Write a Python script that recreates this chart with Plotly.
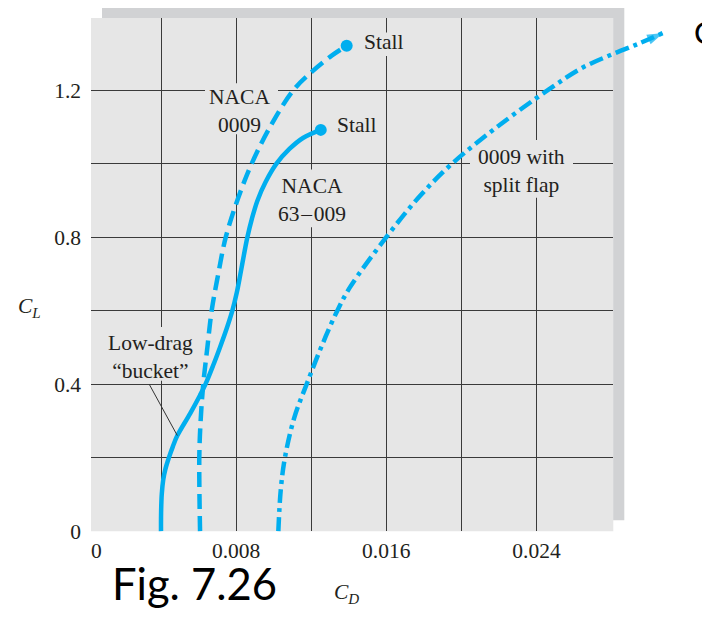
import plotly.graph_objects as go

# ---------------- data ----------------
# NACA 63-009 (solid)
cl_63009 = [0.0, 0.05, 0.10, 0.14, 0.17, 0.20, 0.23, 0.26, 0.32, 0.37, 0.40, 0.45, 0.50, 0.55,
            0.60, 0.65, 0.70, 0.75, 0.80, 0.85, 0.90, 0.95, 1.00, 1.04, 1.07, 1.092]
cd_63009 = [0.00400, 0.004005, 0.00404, 0.00412, 0.00424, 0.00442, 0.00463, 0.00487,
            0.00555, 0.00608, 0.00637, 0.00677, 0.00714, 0.00749, 0.00780, 0.00804,
            0.00823, 0.00841, 0.00860, 0.00884, 0.00914, 0.00957, 0.01015, 0.01084,
            0.01156, 0.01251]

# NACA 0009 (dashed)
cd_0009 = [0.00608, 0.00604, 0.00611, 0.00625, 0.00647, 0.00670, 0.00705,
           0.00745, 0.00812, 0.00883, 0.00981, 0.01105, 0.01203, 0.01309, 0.01389]
cl_0009 = [0.0, 0.20, 0.30, 0.40, 0.50, 0.60, 0.70,
           0.80, 0.908, 1.00, 1.10, 1.20, 1.25, 1.294, 1.321]

# NACA 0009 with split flap (dash-dot, ends in an arrow)
cd_flap = [0.01025, 0.01038, 0.01060, 0.01110, 0.01176, 0.01256, 0.01339, 0.01407,
           0.01600, 0.01779, 0.01950, 0.02190, 0.02460, 0.02640, 0.02814, 0.02950, 0.03075]
cl_flap = [0.0, 0.113, 0.20, 0.309, 0.40, 0.504, 0.60, 0.664,
           0.80, 0.912, 1.00, 1.10, 1.20, 1.26, 1.30, 1.328, 1.356]

x_grid = [0.004, 0.008, 0.012, 0.016, 0.020, 0.024]
x_ticktext = ["", "0.008", "", "0.016", "", "0.024"]
y_grid = [0.0, 0.2, 0.4, 0.6, 0.8, 1.0, 1.2]
y_ticktext = ["0", "", "0.4", "", "0.8", "", "1.2"]

BUCKET_CL = 0.26   # where the "Low-drag bucket" leader touches the solid curve

# ---------------- geometry / style ----------------
# page pixels; the page body has an 8px margin, so the figure starts at (8, 8)
WP, HP, OFF = 710, 622, 8
W, H = WP - OFF, HP - 2 * OFF
SX, SY = 18775.0, 375.5          # px per unit of CD / CL
X0, Y0 = 85.9, 542.6             # page pixel of CD=0 / CL=0
L, R, T, B = 91.0, 613.3, 18.3, 542.6   # plot box in page px

def px2cd(p):
    return (p - X0) / SX

def py2cl(p):
    return (Y0 - p) / SY

def pxp(p):
    return (p - OFF) / W

def pyp(p):
    return 1 - (p - OFF) / H

CYAN = "#00aeef"
GRID = "#3a3a3a"
BG = "#e6e6e6"
SHADOW = "#d1d2d4"
TXT = "#231f20"
SERIF = "Liberation Serif"
FS = 21.5

fig = go.Figure()

# curves drawn on a full-figure overlay axis with the same scale (so the arrow can leave the box)
fig.add_trace(go.Scatter(x=cd_0009, y=cl_0009, xaxis="x2", yaxis="y2", mode="lines",
                         line=dict(color=CYAN, width=4.5, dash="15px,7px", shape="spline"),
                         hoverinfo="skip"))
fig.add_trace(go.Scatter(x=cd_63009, y=cl_63009, xaxis="x2", yaxis="y2", mode="lines",
                         line=dict(color=CYAN, width=4.5, shape="spline"),
                         hoverinfo="skip"))
fig.add_trace(go.Scatter(x=cd_flap, y=cl_flap, xaxis="x2", yaxis="y2", mode="lines+markers",
                         line=dict(color=CYAN, width=4.5, dash="14px,5px,4px,5px", shape="spline"),
                         marker=dict(size=[0] * (len(cd_flap) - 1) + [17], symbol="arrow",
                                     angleref="previous", color=CYAN, line=dict(width=0)),
                         hoverinfo="skip"))
# stall points
fig.add_trace(go.Scatter(x=[cd_0009[-1], cd_63009[-1]], y=[cl_0009[-1], cl_63009[-1]],
                         xaxis="x2", yaxis="y2", mode="markers",
                         marker=dict(size=12, color=CYAN), hoverinfo="skip"))
# dummy trace on main axes so the grid subplot exists
fig.add_trace(go.Scatter(x=[None], y=[None], xaxis="x", yaxis="y", mode="lines",
                         hoverinfo="skip"))

shapes = [
    dict(type="rect", xref="paper", yref="paper", x0=pxp(L + 11), x1=pxp(R + 11),
         y0=pyp(B - 11), y1=pyp(T - 11), fillcolor=SHADOW, line=dict(width=0), layer="below"),
    dict(type="rect", xref="paper", yref="paper", x0=pxp(L), x1=pxp(R),
         y0=pyp(B), y1=pyp(T), fillcolor=BG, line=dict(width=0), layer="below"),
]
# knock-outs of the grid behind the labels
for (a, b, c, d) in [(205, 278, 85, 137), (275, 350, 173, 232), (470, 573, 143, 202),
                     (100, 200, 334, 389), (358, 405, 33, 57)]:
    shapes.append(dict(type="rect", xref="x", yref="y", x0=px2cd(a), x1=px2cd(b),
                       y0=py2cl(d), y1=py2cl(c), fillcolor=BG, line=dict(width=0),
                       layer="between"))

def lab(text, px, py, xanchor="center", size=FS, family=SERIF, color=TXT):
    return dict(text=text, xref="paper", yref="paper", x=pxp(px), y=pyp(py),
                xanchor=xanchor, yanchor="middle", showarrow=False, align="center",
                font=dict(family=family, size=size, color=color))

ib = cl_63009.index(BUCKET_CL)
annotations = [
    lab("NACA<br>0009", 240, 113.5),
    lab("NACA<br>63\u200a\u2013\u200a009", 312, 204),
    lab("0009 with<br>split flap", 521, 174.5),
    lab("Low-drag<br>\u201cbucket\u201d", 150, 365),
    lab("0", 96, 563),
    lab("<i>C<sub>L</sub></i>", 16, 314, xanchor="left"),
    lab("<i>C<sub>D</sub></i>", 332, 606, xanchor="left"),
    lab("Fig. 7.26", 195, 596, size=43.5, family="Lato", color="#000000"),
    lab("C", 692, 33, xanchor="left", size=31, family="Lato", color="#000000"),
    dict(text="Stall", xref="x2", yref="y2", x=cd_0009[-1], y=cl_0009[-1], xshift=15, yshift=4,
         xanchor="left", yanchor="middle", showarrow=False,
         font=dict(family=SERIF, size=FS, color=TXT)),
    dict(text="Stall", xref="x2", yref="y2", x=cd_63009[-1], y=cl_63009[-1], xshift=14, yshift=5,
         xanchor="left", yanchor="middle", showarrow=False,
         font=dict(family=SERIF, size=FS, color=TXT)),
    # leader line for the low-drag bucket
    dict(text="", xref="x2", yref="y2", x=cd_63009[ib], y=cl_63009[ib], ax=-29, ay=-53,
         showarrow=True, arrowhead=0, arrowwidth=1, arrowcolor="#333333", standoff=0),
]

fig.update_layout(
    width=W, height=H, margin=dict(l=0, r=0, t=0, b=0),
    paper_bgcolor="white", plot_bgcolor="rgba(0,0,0,0)",
    showlegend=False, hovermode=False,
    shapes=shapes, annotations=annotations,
    xaxis=dict(domain=[pxp(L), pxp(R)], range=[px2cd(L), px2cd(R)],
               tickmode="array", tickvals=x_grid, ticktext=x_ticktext,
               showgrid=True, gridcolor=GRID, gridwidth=1, zeroline=False, showline=False,
               ticks="", ticklabelstandoff=4,
               tickfont=dict(family=SERIF, size=FS, color=TXT), fixedrange=True),
    yaxis=dict(domain=[pyp(B), pyp(T)], range=[py2cl(B), py2cl(T)],
               tickmode="array", tickvals=y_grid, ticktext=y_ticktext,
               showgrid=True, gridcolor=GRID, gridwidth=1,
               zeroline=True, zerolinecolor="rgba(0,0,0,0)", showline=False,
               ticks="", ticklabelstandoff=9,
               tickfont=dict(family=SERIF, size=FS, color=TXT), fixedrange=True),
    xaxis2=dict(domain=[0, 1], range=[px2cd(OFF), px2cd(OFF + W)], visible=False,
                fixedrange=True, anchor="y2"),
    yaxis2=dict(domain=[0, 1], range=[py2cl(OFF + H), py2cl(OFF)], visible=False,
                fixedrange=True, anchor="x2"),
)

fig.write_html("out.html")
